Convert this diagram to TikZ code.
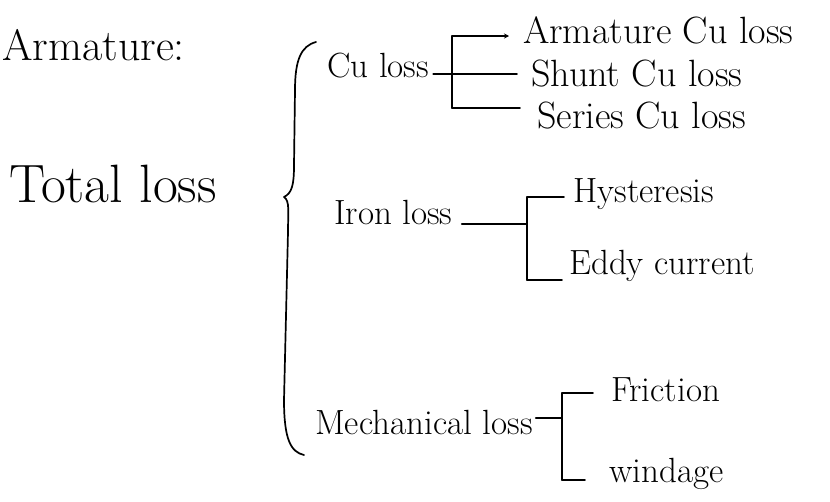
\documentclass[tikz,border=0pt]{standalone}
\usetikzlibrary{arrows.meta}
\begin{document}
\begin{tikzpicture}[x=1pt,y=-1pt,
  txt/.style={inner sep=1pt,anchor=west,font=\fontsize{35}{38}\selectfont},
  sub/.style={txt,font=\fontsize{38}{42}\selectfont},
  big/.style={txt,font=\fontsize{54}{58}\selectfont},
  head/.style={txt,font=\fontsize{44}{48}\selectfont},
  ink/.style={line width=1.7pt,line cap=round,line join=round}]
\useasboundingbox (0,0) rectangle (830,501);

% headings
\node[head,anchor=base west] (arm) at (1,60) {Armature:};
\node[big,anchor=base west] (total) at (8,202) {Total loss};

% first level
\node[txt] (cu) at (326,66) {Cu loss};
\node[txt] (iron) at (333,212) {Iron loss};
\node[txt] (mech) at (314,422) {Mechanical loss};

% second level
\node[sub] (armcu) at (522,30) {Armature Cu loss};
\node[sub] (shunt) at (530,74) {Shunt Cu loss};
\node[sub] (series) at (536,116) {Series Cu loss};
\node[txt] (hyst) at (572,194) {Hysteresis};
\node[txt] (eddy) at (568,266) {Eddy current};
\node[txt] (fric) at (610,390) {Friction};
\node[txt] (wind) at (608,474) {windage};

% big brace
\draw[ink] (316,42) .. controls (301,46) and (295,60) .. (295,90)
  -- (294,165) .. controls (294,185) and (292,193) .. (284,197)
  .. controls (290,201) and (288,212) .. (288,232)
  -- (284,400) .. controls (284,440) and (291,452) .. (304,455);

% copper losses
\coordinate (cuT) at (452,36);
\coordinate (cuB) at (452,108);
\draw[ink] (cuT) -- (cuB);
\draw[ink] ([xshift=3pt]cu.east |- shunt.west) -- ([xshift=-13pt]shunt.west);
\draw[ink,-{Stealth[length=5pt,width=5pt]}] (cuT) -- ([xshift=-13pt]armcu.west |- cuT);
\draw[ink] (cuB) -- ([xshift=-16pt]series.west |- cuB);

% iron losses
\coordinate (irT) at (527,197);
\coordinate (irB) at (527,280);
\draw[ink] (irT) -- (irB);
\draw[ink] ([xshift=8pt]iron.east |- 0,224) -- (527,224);
\draw[ink] (irT) -- ([xshift=-8pt]hyst.west |- irT);
\draw[ink] (irB) -- ([xshift=-6pt]eddy.west |- irB);

% mechanical losses
\coordinate (meT) at (562,393);
\coordinate (meB) at (562,480);
\draw[ink] (meT) -- (meB);
\draw[ink] ([xshift=2pt]mech.east |- 0,418) -- (562,418);
\draw[ink] (meT) -- ([xshift=-17pt]fric.west |- meT);
\draw[ink] (meB) -- ([xshift=-23pt]wind.west |- meB);
\end{tikzpicture}
\end{document}
